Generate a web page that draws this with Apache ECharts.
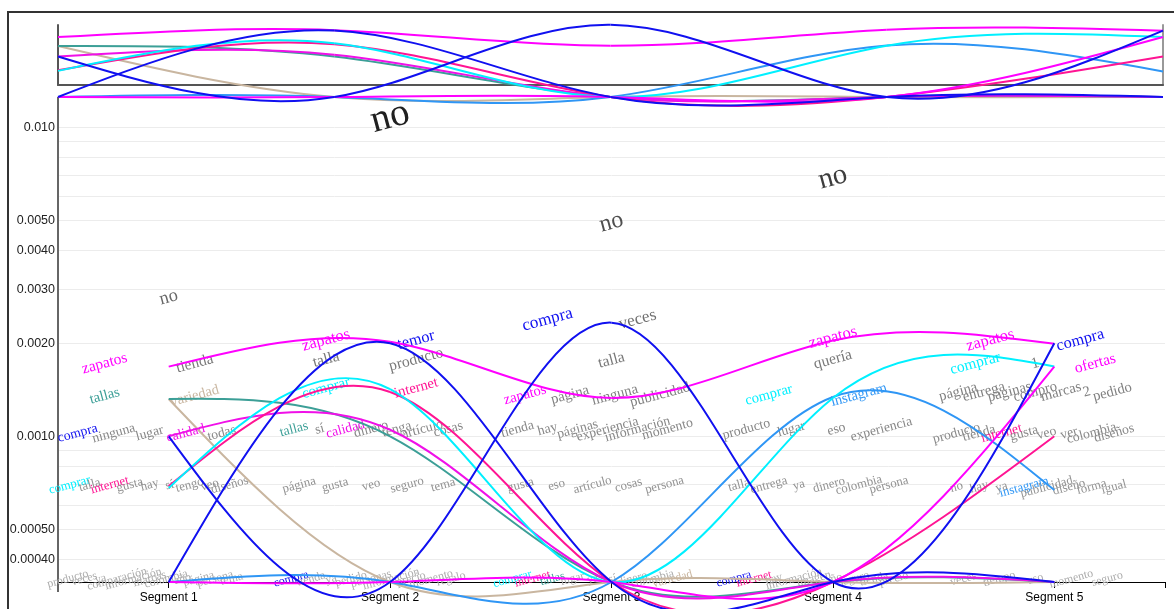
<!DOCTYPE html>
<html>
<head>
<meta charset="utf-8">
<script src="https://cdn.jsdelivr.net/npm/echarts@6/dist/echarts.min.js"></script>
<style>
html,body{margin:0;padding:0;background:#fff;}
#chart{width:1174px;height:609px;}
</style>
</head>
<body>
<div id="chart"></div>
<script>
// ---------- DATA ----------
const FLOOR = 0.000338;               // value drawn on the bottom axis (word absent)
const segments = ["Segment 1", "Segment 2", "Segment 3", "Segment 4", "Segment 5"];

// tracked-word series (relative frequency per segment)
const zapatos   = [0.00168, 0.00202, 0.00133, 0.00204, 0.00199];
const compra    = [0.00100, FLOOR,   0.00233, FLOOR,   0.00200];
const temor     = [FLOOR,   0.00200, FLOOR,   FLOOR,   FLOOR];
const comprar   = [0.00068, 0.00142, FLOOR,   0.00133, 0.00168];
const internet  = [0.00069, 0.00139, FLOOR,   FLOOR,   0.00100];
const calidad   = [0.00100, 0.00105, FLOOR,   FLOOR,   FLOOR];
const tallas    = [0.00132, 0.00100, FLOOR,   FLOOR,   FLOOR];
const variedad  = [0.00132, FLOOR,   FLOOR,   FLOOR,   FLOOR];
const instagram = [FLOOR,   FLOOR,   FLOOR,   0.00134, 0.00067];
const ofertas   = [FLOOR,   FLOOR,   FLOOR,   FLOOR,   0.00168];

// words per segment: [word, frequency]
const wordsSeg1 = [
  ["no", 0.00275],
  ["zapatos", 0.00168], ["tienda", 0.00168],
  ["tallas", 0.00132], ["variedad", 0.00132],
  ["compra", 0.001], ["ninguna", 0.001], ["lugar", 0.001], ["calidad", 0.001], ["todas", 0.001],
  ["comprar", 0.00068], ["talla", 0.00068], ["internet", 0.00068], ["gusta", 0.00068], ["hay", 0.00068],
  ["sí", 0.00068], ["tengo", 0.00068], ["veo", 0.00068], ["diseños", 0.00068],
  ["producto", FLOOR], ["veces", FLOOR], ["ya", FLOOR], ["comparación", FLOOR], ["información", FLOOR],
  ["marcas", FLOOR], ["colombia", FLOOR], ["año", FLOOR], ["página", FLOOR], ["persona", FLOOR], ["tema", FLOOR]
];
const wordsSeg2 = [
  ["no", 0.0105],
  ["zapatos", 0.002], ["temor", 0.002],
  ["talla", 0.00173], ["producto", 0.00173],
  ["comprar", 0.0014], ["internet", 0.0014],
  ["tallas", 0.00103], ["sí", 0.00103], ["calidad", 0.00103], ["dinero", 0.00103], ["tenga", 0.00103],
  ["artículo", 0.00103], ["cosas", 0.00103],
  ["página", 0.00068], ["gusta", 0.00068], ["veo", 0.00068], ["seguro", 0.00068], ["tema", 0.00068],
  ["compra", FLOOR], ["tienda", FLOOR], ["ya", FLOOR], ["pedido", FLOOR], ["personas", FLOOR],
  ["información", FLOOR], ["precio", FLOOR], ["momento", FLOOR], ["regalo", FLOOR]
];
const wordsSeg3 = [
  ["no", 0.0048],
  ["compra", 0.00233], ["veces", 0.00233],
  ["talla", 0.00172],
  ["zapatos", 0.00133], ["página", 0.00133], ["ninguna", 0.00133], ["publicidad", 0.00133],
  ["tienda", 0.00103], ["hay", 0.00103], ["páginas", 0.00103], ["experiencia", 0.00103],
  ["información", 0.00103], ["momento", 0.00103],
  ["gusta", 0.00068], ["eso", 0.00068], ["artículo", 0.00068], ["cosas", 0.00068], ["persona", 0.00068],
  ["comprar", FLOOR], ["internet", FLOOR], ["tallas", FLOOR], ["lugar", FLOOR], ["ya", FLOOR],
  ["sí", FLOOR], ["dinero", FLOOR], ["colombia", FLOOR], ["variedad", FLOOR]
];
const wordsSeg4 = [
  ["no", 0.0067],
  ["zapatos", 0.00204],
  ["quería", 0.00173],
  ["comprar", 0.00133], ["instagram", 0.00133],
  ["producto", 0.00103], ["lugar", 0.00103], ["eso", 0.00103], ["experiencia", 0.00103],
  ["talla", 0.00068], ["entrega", 0.00068], ["ya", 0.00068], ["dinero", 0.00068], ["colombia", 0.00068], ["persona", 0.00068],
  ["compra", FLOOR], ["internet", FLOOR], ["hay", FLOOR], ["información", FLOOR], ["imagen", FLOOR],
  ["año", FLOOR], ["seguro", FLOOR], ["tienda", FLOOR], ["precio", FLOOR]
];
const wordsSeg5 = [
  ["zapatos", 0.002], ["compra", 0.002],
  ["comprar", 0.00168], ["1", 0.00168], ["ofertas", 0.00168],
  ["página", 0.00136], ["entrega", 0.00136], ["páginas", 0.00136], ["compro", 0.00136], ["marcas", 0.00136],
  ["2", 0.00136], ["pedido", 0.00136],
  ["producto", 0.001], ["tienda", 0.001], ["internet", 0.001], ["gusta", 0.001], ["veo", 0.001],
  ["ver", 0.001], ["colombia", 0.001], ["diseños", 0.001],
  ["no", 0.00067], ["hay", 0.00067], ["ya", 0.00067], ["instagram", 0.00067], ["publicidad", 0.00067],
  ["diseño", 0.00067], ["forma", 0.00067], ["igual", 0.00067],
  ["veces", FLOOR], ["tiempo", FLOOR], ["uso", FLOOR], ["momento", FLOOR], ["seguro", FLOOR]
];

// axis ticks
const yTickValues = [0.0004, 0.0005, 0.001, 0.002, 0.003, 0.004, 0.005, 0.01];
const yTickLabels = ["0.00040", "0.00050", "0.0010", "0.0020", "0.0030", "0.0040", "0.0050", "0.010"];
const yMinorValues = [0.0006, 0.0007, 0.0008, 0.0009, 0.006, 0.007, 0.008, 0.009];

// ---------- STYLE ----------
const seriesDefs = [
  { name: "variedad", data: variedad, color: "#c9b6a0" },
  { name: "tallas", data: tallas, color: "#3c9f97" },
  { name: "instagram", data: instagram, color: "#2f96f5" },
  { name: "calidad", data: calidad, color: "#f010e8" },
  { name: "internet", data: internet, color: "#ff1493" },
  { name: "comprar", data: comprar, color: "#00f0ff" },
  { name: "ofertas", data: ofertas, color: "#ff00ff" },
  { name: "zapatos", data: zapatos, color: "#ff00ff" },
  { name: "temor", data: temor, color: "#1010f0" },
  { name: "compra", data: compra, color: "#1010f0" }
];
const colorOf = {};
seriesDefs.forEach(s => colorOf[s.name] = s.color);

const MAIN_MAX = 0.0125;
const MINI_MIN = 0.000466, MINI_MAX = 0.00232;

// build word items grouped by (segment, value)
const allWordSets = [wordsSeg1, wordsSeg2, wordsSeg3, wordsSeg4, wordsSeg5];
const wordItems = [];
allWordSets.forEach((set, seg) => {
  const groups = new Map();
  set.forEach(([w, v]) => {
    if (!groups.has(v)) groups.set(v, []);
    groups.get(v).push(w);
  });
  groups.forEach((list, v) => {
    list.forEach((w, i) => wordItems.push({ seg, value: v, word: w, i, n: list.length }));
  });
});

function fontSizeFor(v) { return 11 + 2671 * v; }
function grayFor(v) {
  const t = Math.max(0, (v - FLOOR) / (0.0105 - FLOOR));
  const g = Math.round(172 - 140 * Math.sqrt(t));
  return "rgb(" + g + "," + g + "," + g + ")";
}

// natural cubic spline control points (rendering of the curve between data points)
function naturalCtrl(x) {
  const n = x.length - 1;
  const a = new Array(n), b = new Array(n), r = new Array(n);
  a[0] = 0; b[0] = 2; r[0] = x[0] + 2 * x[1];
  for (let i = 1; i < n - 1; i++) { a[i] = 1; b[i] = 4; r[i] = 4 * x[i] + 2 * x[i + 1]; }
  a[n - 1] = 2; b[n - 1] = 7; r[n - 1] = 8 * x[n - 1] + x[n];
  for (let i = 1; i < n; i++) { const m = a[i] / b[i - 1]; b[i] -= m; r[i] -= m * r[i - 1]; }
  a[n - 1] = r[n - 1] / b[n - 1];
  for (let i = n - 2; i >= 0; i--) a[i] = (r[i] - a[i + 1]) / b[i];
  b[n - 1] = (x[n] + a[n - 1]) / 2;
  for (let i = 0; i < n - 1; i++) b[i] = 2 * x[i + 1] - a[i + 1];
  return [a, b];
}

function curveSeries(s, xi, yi) {
  return {
    name: s.name, type: "custom", xAxisIndex: xi, yAxisIndex: yi, z: 3, silent: true, clip: false,
    data: s.data.map((v, k) => [k, v]),
    encode: { x: 0, y: 1 },
    renderItem: function (params, api) {
      if (params.dataIndex !== 0) return null;
      const pts = s.data.map((v, k) => api.coord([k, v]));
      const xs = pts.map(p => p[0]), ys = pts.map(p => p[1]);
      const cx = naturalCtrl(xs), cy = naturalCtrl(ys);
      const children = [];
      for (let i = 0; i < xs.length - 1; i++) {
        children.push({
          type: "bezierCurve",
          shape: { x1: xs[i], y1: ys[i], cpx1: cx[0][i], cpy1: cy[0][i], cpx2: cx[1][i], cpy2: cy[1][i], x2: xs[i + 1], y2: ys[i + 1] },
          style: { stroke: s.color, lineWidth: 2, fill: null }
        });
      }
      return { type: "group", children: children };
    }
  };
}

const series = [];

// grid lines + y tick labels (+ y axis line reaching a little under the x axis)
const gridItems = yTickValues.map((v, i) => ({ v, label: yTickLabels[i] }))
  .concat(yMinorValues.map(v => ({ v, label: "" })));
series.push({
  type: "custom", xAxisIndex: 0, yAxisIndex: 0, z: 1, silent: true, clip: false,
  data: gridItems.map(g => [0, g.v]),
  encode: { x: 0, y: 1 },
  renderItem: function (params, api) {
    const g = gridItems[params.dataIndex];
    const cs = params.coordSys;
    const y = Math.round(api.coord([0, g.v])[1]) + 0.5;
    const children = [{
      type: "line",
      shape: { x1: cs.x, y1: y, x2: cs.x + cs.width, y2: y },
      style: { stroke: "#ececec", lineWidth: 1 }
    }];
    if (g.label) {
      children.push({
        type: "text", x: cs.x - 3, y: y,
        style: { text: g.label, fontSize: 12.5, fontFamily: "Liberation Sans", fill: "#222", align: "right", verticalAlign: "middle" }
      });
    }
    if (params.dataIndex === 0) {
      children.push({
        type: "line", z2: 10,
        shape: { x1: cs.x, y1: cs.y, x2: cs.x, y2: cs.y + cs.height + 10 },
        style: { stroke: "#666", lineWidth: 2 }
      });
    }
    return { type: "group", children: children };
  }
});

// words
series.push({
  type: "custom", xAxisIndex: 0, yAxisIndex: 0, z: 2, silent: true, clip: false,
  data: wordItems.map(w => [w.seg, w.value]),
  encode: { x: 0, y: 1 },
  renderItem: function (params, api) {
    const w = wordItems[params.dataIndex];
    const pt = api.coord([w.seg, w.value]);
    const step = Math.min(90, 180 / w.n);
    const dx = w.n === 1 ? 0 : -19 + (w.i - (w.n - 1) / 2) * step;
    const size = fontSizeFor(w.value);
    return {
      type: "text",
      x: pt[0] + dx,
      y: pt[1] - 3,
      rotation: 15 * Math.PI / 180,
      style: {
        text: w.word,
        fontSize: size,
        fontFamily: "Liberation Serif",
        fill: colorOf[w.word] || grayFor(w.value),
        align: "center",
        verticalAlign: "middle"
      }
    };
  }
});

// main curves and overview curves
seriesDefs.forEach(s => series.push(curveSeries(s, 0, 0)));
seriesDefs.forEach(s => series.push(curveSeries(s, 2, 1)));

const option = {
  animation: false,
  textStyle: { fontFamily: "Liberation Sans" },
  graphic: [{
    type: "rect", z: 100, silent: true,
    shape: { x: 8, y: 12, width: 1300, height: 800 },
    style: { fill: "none", stroke: "#333", lineWidth: 2 }
  }],
  grid: [
    { left: 58, right: 9, top: 97, bottom: 27 },
    { left: 58, right: 11, top: 25, bottom: 524 }
  ],
  xAxis: [
    {
      gridIndex: 0, type: "category", data: segments, boundaryGap: true,
      axisLine: { show: true, lineStyle: { color: "#000", width: 1 } },
      axisTick: { show: true, alignWithLabel: true, length: 6, lineStyle: { color: "#000" } },
      axisLabel: { color: "#000", fontSize: 12, fontFamily: "Liberation Sans", margin: 10 },
      splitLine: { show: false }
    },
    {
      gridIndex: 0, type: "value", min: 0, max: 1, interval: 1, position: "bottom",
      axisLine: { show: false },
      axisTick: { show: true, length: 6, lineStyle: { color: "#000" } },
      axisLabel: { show: false }, splitLine: { show: false }
    },
    {
      gridIndex: 1, type: "category", data: segments, boundaryGap: false,
      axisLine: { show: true, lineStyle: { color: "#555", width: 2 } },
      axisTick: { show: false }, axisLabel: { show: false }, splitLine: { show: false }
    }
  ],
  yAxis: [
    {
      gridIndex: 0, type: "log", logBase: 10, min: FLOOR, max: MAIN_MAX,
      axisLine: { show: false },
      axisTick: { show: false }, axisLabel: { show: false }, splitLine: { show: false }
    },
    {
      gridIndex: 1, type: "log", logBase: 10, min: MINI_MIN, max: MINI_MAX,
      axisLine: { show: true, lineStyle: { color: "#555", width: 2 } },
      axisTick: { show: false }, axisLabel: { show: false }, splitLine: { show: false }
    },
    {
      gridIndex: 1, type: "log", logBase: 10, min: MINI_MIN, max: MINI_MAX, position: "right",
      axisLine: { show: true, lineStyle: { color: "#999", width: 2 } },
      axisTick: { show: false }, axisLabel: { show: false }, splitLine: { show: false }
    }
  ],
  series: series
};

const chart = echarts.init(document.getElementById("chart"), null, { renderer: "canvas" });
chart.setOption(option);
</script>
</body>
</html>
